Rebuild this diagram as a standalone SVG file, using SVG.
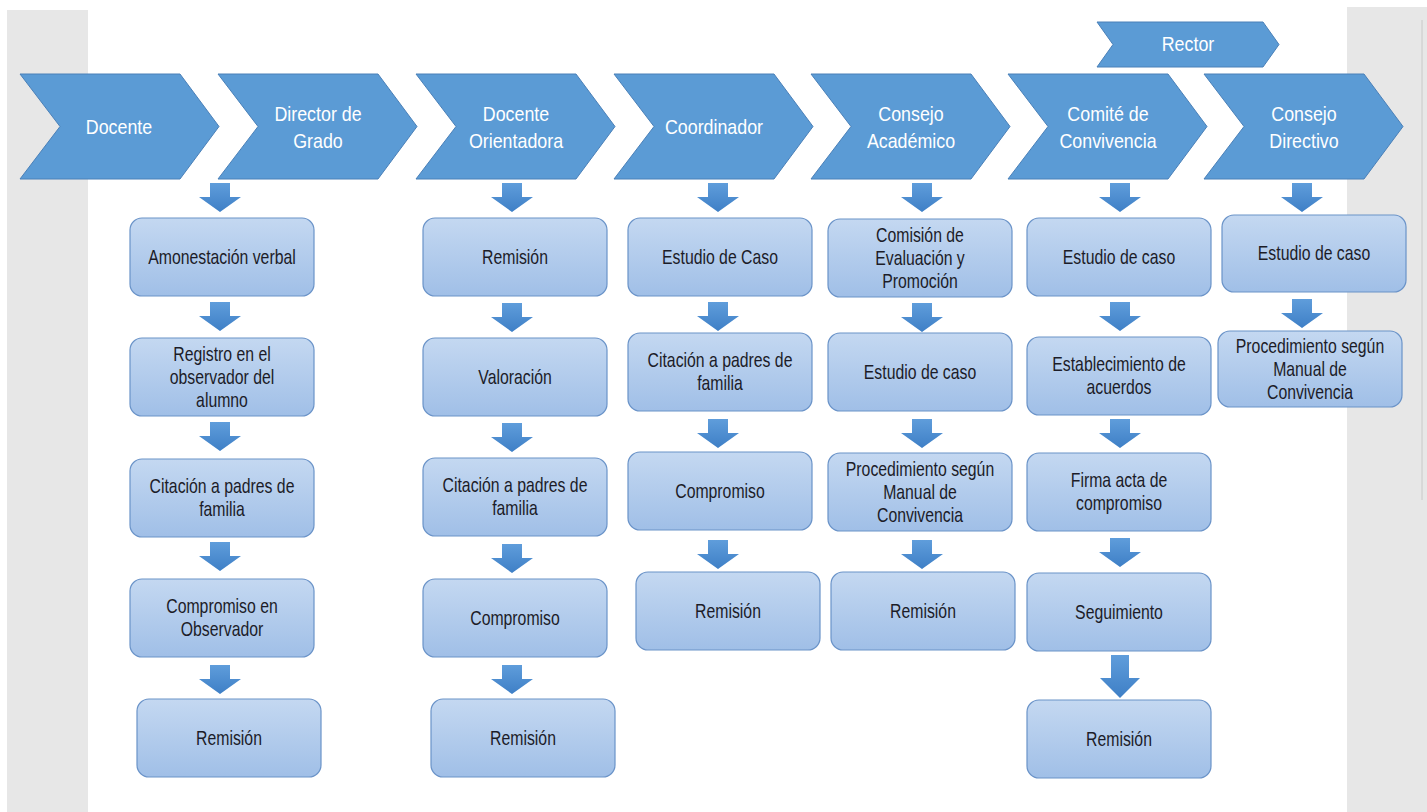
<svg xmlns="http://www.w3.org/2000/svg" xmlns:xlink="http://www.w3.org/1999/xlink" width="1427" height="812" viewBox="0 0 1427 812">
<style>
.bg{fill:#e7e7e7}
.chev{fill:#5b9bd5;stroke:#4a80b8;stroke-width:1}
.ct{fill:#ffffff;font-family:"Liberation Sans",Arial,sans-serif;font-size:21px;text-anchor:middle}
.box{fill:url(#boxg);stroke:#6a93c8;stroke-width:1.2}
.bt{fill:#1c1c28;font-family:"Liberation Sans",Arial,sans-serif;font-size:20px;text-anchor:middle}
.arr{fill:url(#arrg)}
</style>
<defs>
<linearGradient id="boxg" x1="0" y1="0" x2="0" y2="1">
<stop offset="0" stop-color="#c4d8f1"/>
<stop offset="1" stop-color="#a0bfe7"/>
</linearGradient>
<linearGradient id="arrg" x1="0" y1="0" x2="0" y2="1">
<stop offset="0" stop-color="#5f9ddb"/>
<stop offset="1" stop-color="#3e7fc6"/>
</linearGradient>
<path id="arrow" d="M-10,0 L10,0 L10,14 L21,14 L0,29 L-21,14 L-10,14 Z"/>
<path id="arrowL" d="M-9,0 L9,0 L9,23 L20,23 L0,43 L-20,23 L-9,23 Z"/>
<path id="chevron" d="M0,74 L160,74 L199,126.5 L160,179 L0,179 L40,126.5 Z"/>
</defs>
<rect x="0" y="0" width="1427" height="812" fill="#ffffff"/>
<rect class="bg" x="7" y="10" width="81" height="802"/>
<rect class="bg" x="1347" y="7" width="80" height="805"/>
<line x1="1422" y1="20" x2="1422" y2="500" stroke="#c8c8c8" stroke-width="1"/>

<g id="connectors">
<use xlink:href="#arrow" href="#arrow" class="arr" x="220" y="183"/>
<use xlink:href="#arrow" href="#arrow" class="arr" x="220" y="302"/>
<use xlink:href="#arrow" href="#arrow" class="arr" x="220" y="422"/>
<use xlink:href="#arrow" href="#arrow" class="arr" x="220" y="542"/>
<use xlink:href="#arrow" href="#arrow" class="arr" x="220" y="665"/>
<use xlink:href="#arrow" href="#arrow" class="arr" x="512" y="183"/>
<use xlink:href="#arrow" href="#arrow" class="arr" x="512" y="303"/>
<use xlink:href="#arrow" href="#arrow" class="arr" x="512" y="423"/>
<use xlink:href="#arrow" href="#arrow" class="arr" x="512" y="544"/>
<use xlink:href="#arrow" href="#arrow" class="arr" x="512" y="665"/>
<use xlink:href="#arrow" href="#arrow" class="arr" x="718" y="183"/>
<use xlink:href="#arrow" href="#arrow" class="arr" x="718" y="302"/>
<use xlink:href="#arrow" href="#arrow" class="arr" x="718" y="419"/>
<use xlink:href="#arrow" href="#arrow" class="arr" x="718" y="540"/>
<use xlink:href="#arrow" href="#arrow" class="arr" x="922" y="183"/>
<use xlink:href="#arrow" href="#arrow" class="arr" x="922" y="303"/>
<use xlink:href="#arrow" href="#arrow" class="arr" x="922" y="419"/>
<use xlink:href="#arrow" href="#arrow" class="arr" x="922" y="540"/>
<use xlink:href="#arrow" href="#arrow" class="arr" x="1120" y="183"/>
<use xlink:href="#arrow" href="#arrow" class="arr" x="1120" y="302"/>
<use xlink:href="#arrow" href="#arrow" class="arr" x="1120" y="419"/>
<use xlink:href="#arrow" href="#arrow" class="arr" x="1120" y="538"/>
<use xlink:href="#arrowL" href="#arrowL" class="arr" x="1120" y="655"/>
<use xlink:href="#arrow" href="#arrow" class="arr" x="1302" y="183"/>
<use xlink:href="#arrow" href="#arrow" class="arr" x="1302" y="299"/>
</g>

<g id="rector">
<path class="chev" d="M1097,22 L1263,22 L1279,44.5 L1263,67 L1097,67 L1113,44.5 Z"/>
<g transform="translate(1188 0) scale(0.85 1)"><text class="ct" x="0" y="51">Rector</text></g>
</g>
<g id="docente">
<use xlink:href="#chevron" href="#chevron" class="chev" x="20"/>
<g transform="translate(119 0) scale(0.85 1)"><text class="ct" x="0" y="134">Docente</text></g>
</g>
<g id="director-grado">
<use xlink:href="#chevron" href="#chevron" class="chev" x="218"/>
<g transform="translate(318 0) scale(0.85 1)"><text class="ct" x="0" y="121">Director de</text><text class="ct" x="0" y="148">Grado</text></g>
</g>
<g id="docente-orientadora">
<use xlink:href="#chevron" href="#chevron" class="chev" x="416"/>
<g transform="translate(516 0) scale(0.85 1)"><text class="ct" x="0" y="121">Docente</text><text class="ct" x="0" y="148">Orientadora</text></g>
</g>
<g id="coordinador">
<use xlink:href="#chevron" href="#chevron" class="chev" x="614"/>
<g transform="translate(714 0) scale(0.85 1)"><text class="ct" x="0" y="134">Coordinador</text></g>
</g>
<g id="consejo-academico">
<use xlink:href="#chevron" href="#chevron" class="chev" x="811"/>
<g transform="translate(911 0) scale(0.85 1)"><text class="ct" x="0" y="121">Consejo</text><text class="ct" x="0" y="148">Académico</text></g>
</g>
<g id="comite-convivencia">
<use xlink:href="#chevron" href="#chevron" class="chev" x="1008"/>
<g transform="translate(1108 0) scale(0.85 1)"><text class="ct" x="0" y="121">Comité de</text><text class="ct" x="0" y="148">Convivencia</text></g>
</g>
<g id="consejo-directivo">
<use xlink:href="#chevron" href="#chevron" class="chev" x="1204"/>
<g transform="translate(1304 0) scale(0.85 1)"><text class="ct" x="0" y="121">Consejo</text><text class="ct" x="0" y="148">Directivo</text></g>
</g>

<g id="c1-amonestacion"><rect class="box" x="130" y="218" width="184" height="78" rx="12"/><g transform="translate(222 0) scale(0.79 1)"><text class="bt" x="0" y="264">Amonestación verbal</text></g></g>
<g id="c1-registro"><rect class="box" x="130" y="338" width="184" height="78" rx="12"/><g transform="translate(222 0) scale(0.79 1)"><text class="bt" x="0" y="361">Registro en el</text><text class="bt" x="0" y="384">observador del</text><text class="bt" x="0" y="407">alumno</text></g></g>
<g id="c1-citacion"><rect class="box" x="130" y="459" width="184" height="78" rx="12"/><g transform="translate(222 0) scale(0.79 1)"><text class="bt" x="0" y="493.5">Citación a padres de</text><text class="bt" x="0" y="516.5">familia</text></g></g>
<g id="c1-compromiso"><rect class="box" x="130" y="579" width="184" height="78" rx="12"/><g transform="translate(222 0) scale(0.79 1)"><text class="bt" x="0" y="613.5">Compromiso en</text><text class="bt" x="0" y="636.5">Observador</text></g></g>
<g id="c1-remision"><rect class="box" x="137" y="699" width="184" height="78" rx="12"/><g transform="translate(229 0) scale(0.79 1)"><text class="bt" x="0" y="745">Remisión</text></g></g>

<g id="c2-remision1"><rect class="box" x="423" y="218" width="184" height="78" rx="12"/><g transform="translate(515 0) scale(0.79 1)"><text class="bt" x="0" y="264">Remisión</text></g></g>
<g id="c2-valoracion"><rect class="box" x="423" y="338" width="184" height="78" rx="12"/><g transform="translate(515 0) scale(0.79 1)"><text class="bt" x="0" y="384">Valoración</text></g></g>
<g id="c2-citacion"><rect class="box" x="423" y="458" width="184" height="78" rx="12"/><g transform="translate(515 0) scale(0.79 1)"><text class="bt" x="0" y="492.5">Citación a padres de</text><text class="bt" x="0" y="515.5">familia</text></g></g>
<g id="c2-compromiso"><rect class="box" x="423" y="579" width="184" height="78" rx="12"/><g transform="translate(515 0) scale(0.79 1)"><text class="bt" x="0" y="625">Compromiso</text></g></g>
<g id="c2-remision2"><rect class="box" x="431" y="699" width="184" height="78" rx="12"/><g transform="translate(523 0) scale(0.79 1)"><text class="bt" x="0" y="745">Remisión</text></g></g>

<g id="c3-estudio"><rect class="box" x="628" y="218" width="184" height="78" rx="12"/><g transform="translate(720 0) scale(0.79 1)"><text class="bt" x="0" y="264">Estudio de Caso</text></g></g>
<g id="c3-citacion"><rect class="box" x="628" y="333" width="184" height="78" rx="12"/><g transform="translate(720 0) scale(0.79 1)"><text class="bt" x="0" y="367.5">Citación a padres de</text><text class="bt" x="0" y="390.5">familia</text></g></g>
<g id="c3-compromiso"><rect class="box" x="628" y="452" width="184" height="78" rx="12"/><g transform="translate(720 0) scale(0.79 1)"><text class="bt" x="0" y="498">Compromiso</text></g></g>
<g id="c3-remision"><rect class="box" x="636" y="572" width="184" height="78" rx="12"/><g transform="translate(728 0) scale(0.79 1)"><text class="bt" x="0" y="618">Remisión</text></g></g>

<g id="c4-comision"><rect class="box" x="828" y="219" width="184" height="78" rx="12"/><g transform="translate(920 0) scale(0.79 1)"><text class="bt" x="0" y="242">Comisión de</text><text class="bt" x="0" y="265">Evaluación y</text><text class="bt" x="0" y="288">Promoción</text></g></g>
<g id="c4-estudio"><rect class="box" x="828" y="333" width="184" height="78" rx="12"/><g transform="translate(920 0) scale(0.79 1)"><text class="bt" x="0" y="379">Estudio de caso</text></g></g>
<g id="c4-procedimiento"><rect class="box" x="828" y="453" width="184" height="78" rx="12"/><g transform="translate(920 0) scale(0.79 1)"><text class="bt" x="0" y="476">Procedimiento según</text><text class="bt" x="0" y="499">Manual de</text><text class="bt" x="0" y="522">Convivencia</text></g></g>
<g id="c4-remision"><rect class="box" x="831" y="572" width="184" height="78" rx="12"/><g transform="translate(923 0) scale(0.79 1)"><text class="bt" x="0" y="618">Remisión</text></g></g>

<g id="c5-estudio"><rect class="box" x="1027" y="218" width="184" height="78" rx="12"/><g transform="translate(1119 0) scale(0.79 1)"><text class="bt" x="0" y="264">Estudio de caso</text></g></g>
<g id="c5-establecimiento"><rect class="box" x="1027" y="337" width="184" height="78" rx="12"/><g transform="translate(1119 0) scale(0.79 1)"><text class="bt" x="0" y="371.5">Establecimiento de</text><text class="bt" x="0" y="394.5">acuerdos</text></g></g>
<g id="c5-firma"><rect class="box" x="1027" y="453" width="184" height="78" rx="12"/><g transform="translate(1119 0) scale(0.79 1)"><text class="bt" x="0" y="487.5">Firma acta de</text><text class="bt" x="0" y="510.5">compromiso</text></g></g>
<g id="c5-seguimiento"><rect class="box" x="1027" y="573" width="184" height="78" rx="12"/><g transform="translate(1119 0) scale(0.79 1)"><text class="bt" x="0" y="619">Seguimiento</text></g></g>
<g id="c5-remision"><rect class="box" x="1027" y="700" width="184" height="78" rx="12"/><g transform="translate(1119 0) scale(0.79 1)"><text class="bt" x="0" y="746">Remisión</text></g></g>

<g id="c6-estudio"><rect class="box" x="1222" y="215" width="184" height="77" rx="12"/><g transform="translate(1314 0) scale(0.79 1)"><text class="bt" x="0" y="260">Estudio de caso</text></g></g>
<g id="c6-procedimiento"><rect class="box" x="1218" y="331" width="184" height="76" rx="12"/><g transform="translate(1310 0) scale(0.79 1)"><text class="bt" x="0" y="353">Procedimiento según</text><text class="bt" x="0" y="376">Manual de</text><text class="bt" x="0" y="399">Convivencia</text></g></g>
</svg>
